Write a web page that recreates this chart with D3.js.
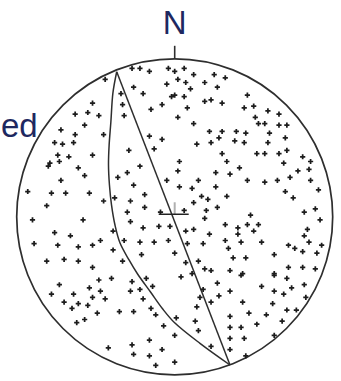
<!DOCTYPE html>
<html>
<head>
<meta charset="utf-8">
<script src="https://cdn.jsdelivr.net/npm/d3@7"></script>
<style>
  html, body { margin: 0; padding: 0; background: #fff; }
  svg { display: block; }
</style>
</head>
<body>
<svg id="chart" width="341" height="381"></svg>
<script>
// Net coordinates: [east, north], primitive circle radius = 100.

// Plotted poles
const poles = [
  [-44,87],[-27,94],[-22,94],[-16,92],[-4,94],[-26,82],[-20,78],[-5,84],[-2,76],[-34,78],
  [-33,71],[-32,64],[-52,72],[-8,71],[-15,68],[-63,65],[-55,66],[-48,64],[-57,58],[-72,55],
  [-63,52],[-45,52],[-16,51],[-8,49],[-76,47],[-71,46],[-64,47],[-13,43],[-29,42],[-74,39],
  [-67,38],[-52,39],[-79,34],[-73,35],
  [0,92],[6,94],[2,87],[12,90],[7,85],[10,81],[19,85],[25,90],[32,88],[27,82],
  [0,77],[6,76],[19,73],[23,74],[30,72],[8,69],[2,63],[12,59],[46,77],[44,69],
  [50,70],[59,67],[66,65],[51,63],[53,59],[57,59],[66,58],[71,58],[22,54],[30,54],
  [39,54],[45,53],[60,53],[28,50],[23,47],[38,48],[44,47],[59,47],[70,50],[14,46],
  [30,40],[52,40],[57,40],[66,40],[71,42],[81,38],[86,35],[33,35],[69,34],[3,35],
  [-80,32],[-61,31],[-57,26],[-72,23],[-93,16],[-78,15],[-69,15],[-54,15],[-45,10],[-81,7],
  [-90,-2],[-58,-2],[-76,-10],[-66,-12],[-89,-17],[-74,-18],[-61,-19],[-52,-18],[-47,-15],[-81,-28],
  [-70,-27],[-61,-28],[-52,-32],[-39,-21],[-39,-9],[-38,12],[-36,25],[-30,28],[-22,32],[-26,20],
  [-19,14],[-28,10],[-30,3],[-19,6],[-28,-3],[-20,-7],[-10,-6],[-3,-6],[-32,-15],[-22,-16],
  [-13,-16],[-4,-15],[-21,-24],[-33,-28],[-5,23],[0,-23],[-9,3],
  [2,29],[26,28],[35,27],[41,31],[15,23],[3,19],[11,18],[26,19],[17,13],[21,11],
  [33,13],[12,9],[27,6],[20,4],[6,4],[19,-1],[46,23],[57,22],[65,23],[73,25],
  [78,29],[85,30],[86,23],[91,17],[70,16],[75,12],[48,1],[32,-5],[40,-7],[46,-5],
  [53,-5],[40,-11],[50,-9],[22,-11],[12,-8],[7,-9],[32,-15],[42,-16],[55,-16],[18,-17],
  [8,-17],[34,-20],[82,3],[89,5],[92,-2],[84,-8],[82,-12],[85,-16],[93,-18],[72,-18],
  [76,-20],[81,-22],[90,-23],[63,-24],[37,-26],[45,-26],[7,-29],[15,-28],[19,-33],[23,-34],
  [35,-34],[43,-36],[63,-36],[72,-32],[81,-32],[89,-33],[11,-36],
  [4,-38],[27,-42],[18,-46],[16,-51],[23,-54],[28,-50],[35,-47],[42,-37],[43,-54],[47,-61],
  [52,-68],[58,-62],[55,-44],[63,-37],[71,-39],[74,-45],[82,-43],[83,-51],[63,-47],[69,-49],
  [62,-55],[71,-59],[77,-59],[68,-66],[63,-75],[35,-63],[42,-70],[35,-70],[35,-77],[44,-77],
  [14,-57],[13,-66],[15,-72],[23,-82],[35,-84],[45,-88],[1,-64],[0,-75],
  [-73,-43],[-78,-49],[-64,-49],[-54,-45],[-48,-40],[-40,-39],[-47,-47],[-52,-51],[-44,-52],[-70,-54],
  [-61,-55],[-55,-56],[-65,-58],[-49,-61],[-35,-60],[-26,-60],[-57,-65],[-62,-67],[-27,-41],[-18,-39],
  [-14,-44],[-28,-47],[-22,-46],[-20,-52],[-15,-58],[-12,-62],[-7,-69],[-16,-78],[-27,-81],[-42,-83],
  [-26,-87],[-16,-88],[-8,-84],[-12,-94],[0,-92]
];

// Trace of the steep plane (straight, through the centre)
const straightTrace = [[-36.7, 91.8], [35.0, -93.8]];

// Trace of the inclined plane (curved, bowing to the west)
const curvedTrace = [
  [-36.7, 91.8], [-39.1, 78.4], [-40.4, 60.0], [-41.5, 45.4], [-41.9, 32.8],
  [-41.3, 20.1], [-40.0, 7.5], [-37.8, -5.2], [-34.6, -16.6], [-28.9, -27.3],
  [-23.5, -36.2], [-15.3, -47.6], [-7.7, -58.2], [-0.2, -66.9], [16.0, -80.1],
  [35.0, -93.8]
];

// Centre marker
const centreMark = [0, 1.6];

const northLabel = "N";
const sideLabel = "ed";

// ---------------------------------------------------------------------------
const cx = 174.7, cy = 216.8, R = 158;
const ink = "#2e2e2e";
const textColor = "#1e2860";

const x = d3.scaleLinear().domain([-100, 100]).range([cx - R, cx + R]);
const y = d3.scaleLinear().domain([-100, 100]).range([cy + R, cy - R]);

const svg = d3.select("#chart");

// Primitive circle
svg.append("circle")
  .attr("cx", x(0)).attr("cy", y(0))
  .attr("r", x(100) - x(0))
  .attr("fill", "none")
  .attr("stroke", ink)
  .attr("stroke-width", 1.7);

// North tick and label
svg.append("line")
  .attr("x1", x(0)).attr("x2", x(0))
  .attr("y1", y(100)).attr("y2", y(100) - 13)
  .attr("stroke", ink).attr("stroke-width", 1.6);

svg.append("text")
  .attr("x", x(0)).attr("y", 34)
  .attr("text-anchor", "middle")
  .attr("font-family", "'Liberation Sans', Arial, Helvetica, sans-serif")
  .attr("font-size", 33)
  .attr("fill", textColor)
  .text(northLabel);

svg.append("text")
  .attr("x", 1).attr("y", 137)
  .attr("text-anchor", "start")
  .attr("font-family", "'Liberation Sans', Arial, Helvetica, sans-serif")
  .attr("font-size", 33)
  .attr("fill", textColor)
  .text(sideLabel);

// Plane traces
const line = d3.line().x(d => x(d[0])).y(d => y(d[1]));

svg.append("path")
  .attr("d", line(straightTrace))
  .attr("fill", "none").attr("stroke", ink).attr("stroke-width", 1.5);

svg.append("path")
  .attr("d", line.curve(d3.curveCatmullRom.alpha(0.5))(curvedTrace))
  .attr("fill", "none").attr("stroke", ink).attr("stroke-width", 1.5);

// Poles as small crosses
const cross = d3.symbol().type(d3.symbolCross).size(15);
svg.append("g")
  .selectAll("path")
  .data(poles)
  .join("path")
  .attr("transform", d => `translate(${x(d[0])},${y(d[1])})`)
  .attr("d", cross)
  .attr("fill", "#1c1c1c");

// Centre marker
const mx = x(centreMark[0]), my = y(centreMark[1]);
svg.append("line")
  .attr("x1", mx).attr("x2", mx)
  .attr("y1", my).attr("y2", my - 12)
  .attr("stroke", "#b0b0b0").attr("stroke-width", 2);
svg.append("line")
  .attr("x1", mx - 16).attr("x2", mx + 14)
  .attr("y1", my).attr("y2", my)
  .attr("stroke", "#222").attr("stroke-width", 1.5);
</script>
</body>
</html>
